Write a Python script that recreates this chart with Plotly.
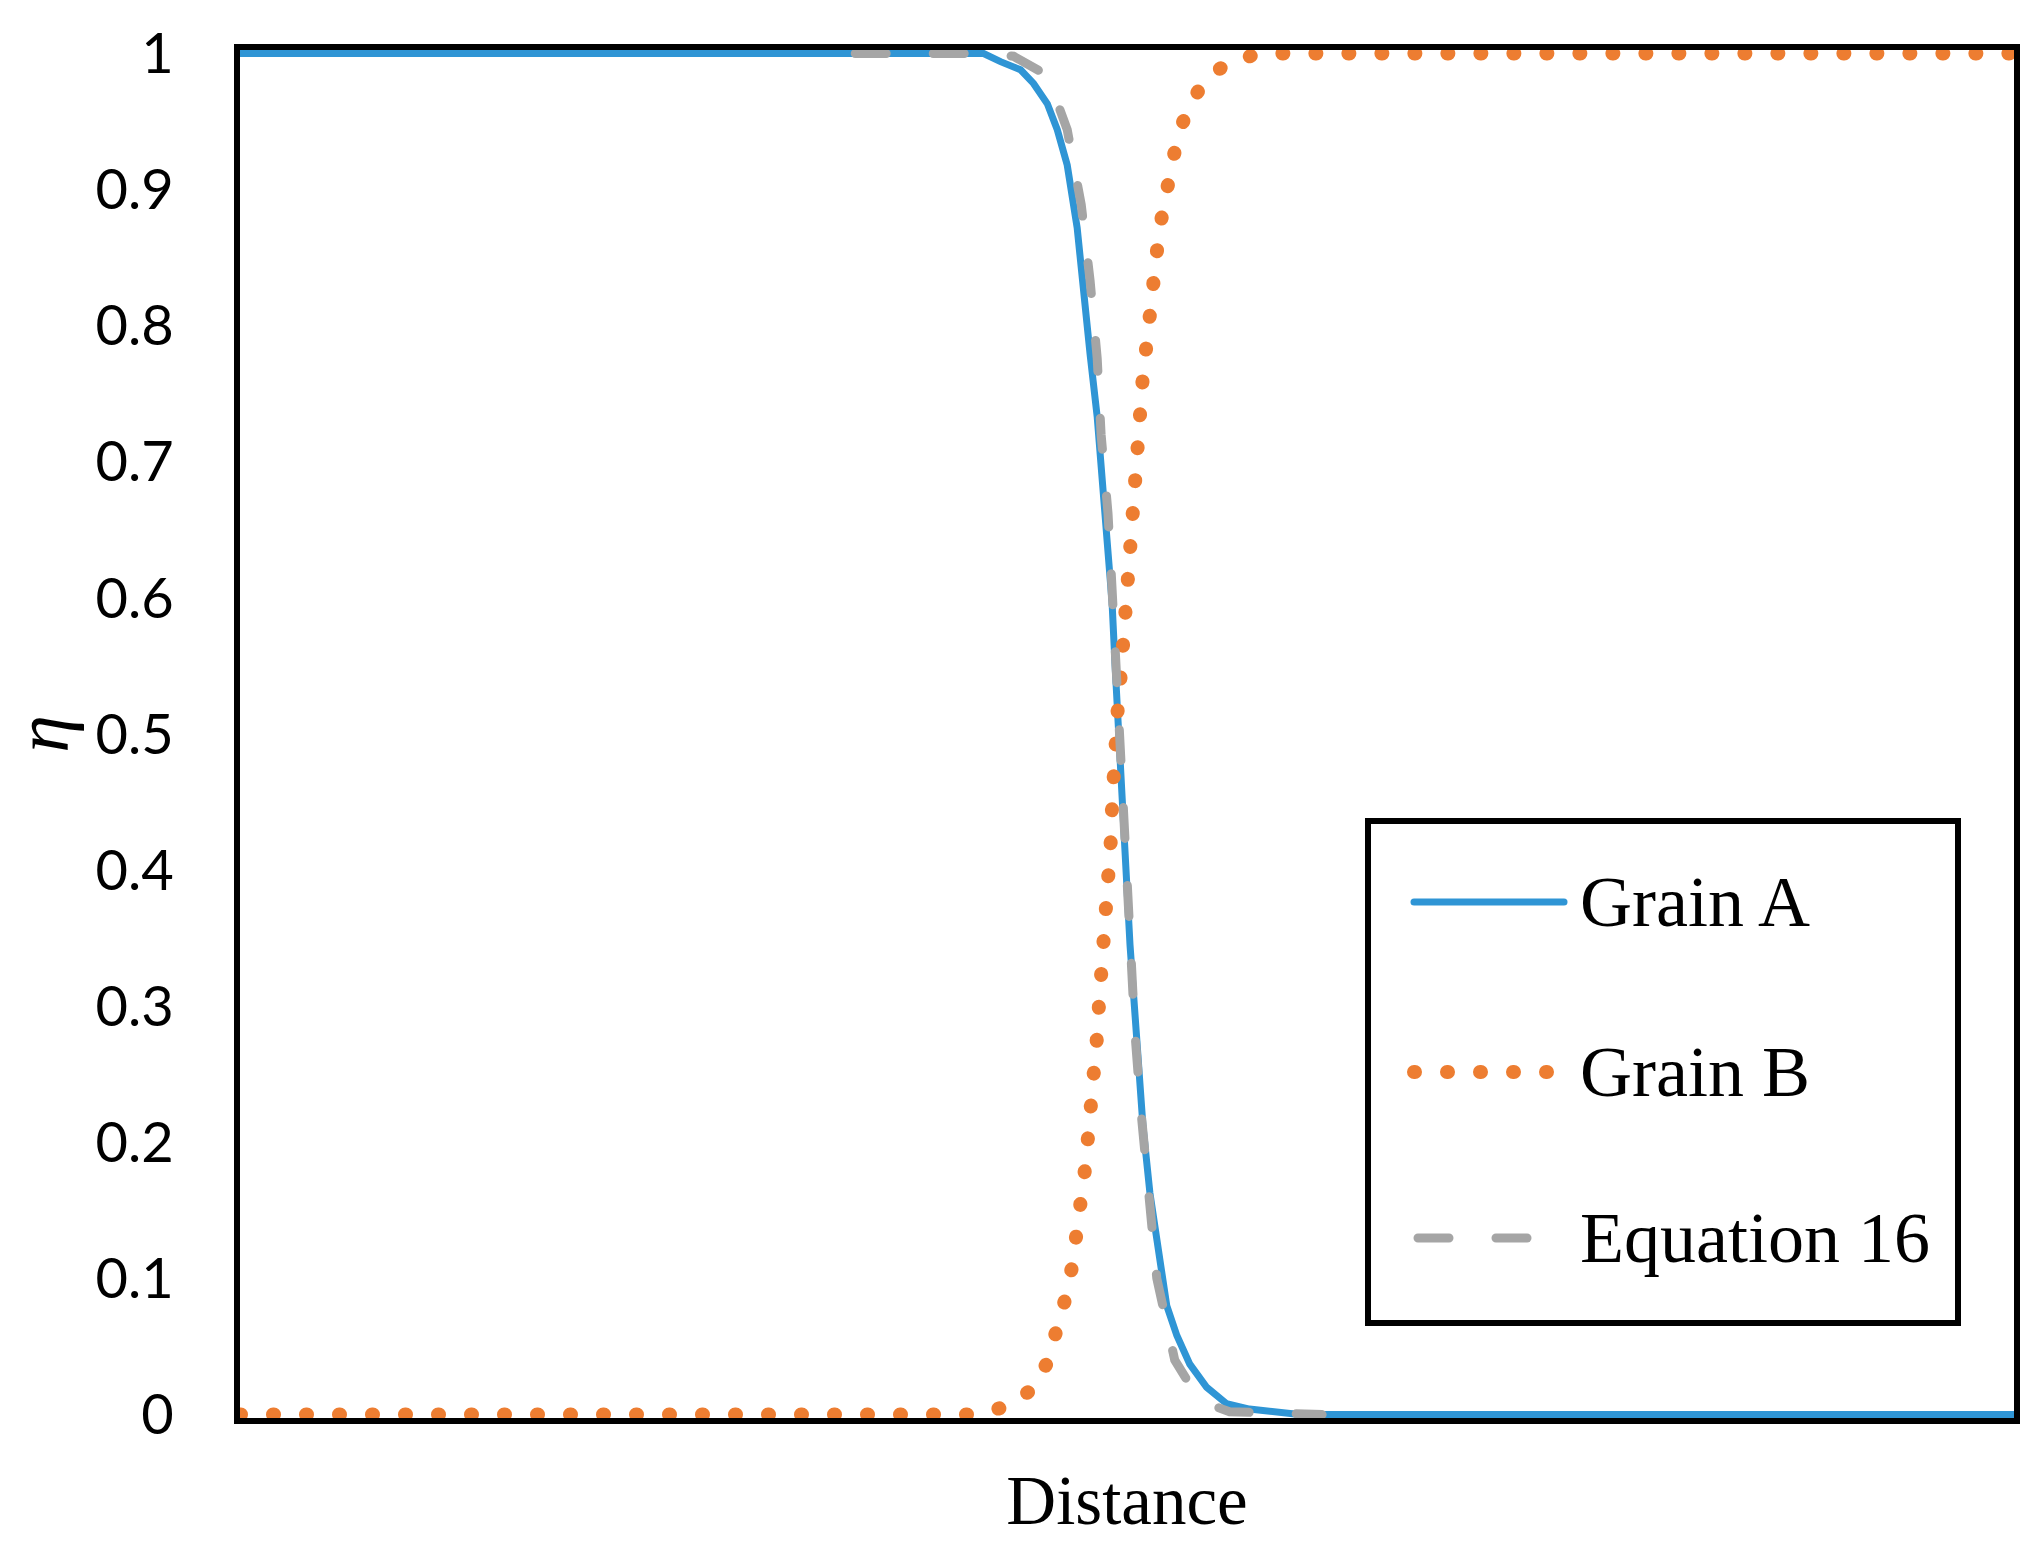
import plotly.graph_objects as go

# ---------------- data ----------------
distance_a = [0, 41.92, 42.87, 44.00, 44.73, 45.51, 46.07, 46.63, 47.19, 47.53,
              47.92, 48.32, 48.60, 48.88, 49.16, 49.33, 49.49, 49.78, 50.17, 50.56,
              50.90, 51.29, 51.68, 52.24, 52.81, 53.54, 54.49, 55.61, 56.90, 59.71, 100]
eta_a = [1, 1, 0.994, 0.988, 0.978, 0.963, 0.944, 0.918, 0.872, 0.825,
         0.779, 0.733, 0.688, 0.642, 0.596, 0.550, 0.505, 0.44, 0.345, 0.279,
         0.212, 0.163, 0.129, 0.080, 0.058, 0.037, 0.020, 0.008, 0.004, 0, 0]

distance_b = [0, 41.08, 42.99, 44.50, 45.51, 46.07, 46.52, 46.91, 47.19, 47.42,
              47.64, 47.81, 48.04, 48.15, 48.32, 48.43, 48.60, 48.71, 48.82, 48.93,
              49.10, 49.16, 49.21, 49.33, 49.49, 49.66, 49.78, 49.94, 50.06, 50.17,
              50.34, 50.45, 50.62, 50.79, 50.90, 51.12, 51.29, 51.52, 51.74, 52.02,
              52.30, 52.75, 53.31, 54.21, 55.61, 57.46, 100]
eta_b = [0, 0, 0.005, 0.017, 0.038, 0.061, 0.085, 0.109, 0.133, 0.157,
         0.181, 0.205, 0.230, 0.254, 0.279, 0.303, 0.327, 0.352, 0.375, 0.400,
         0.424, 0.448, 0.473, 0.497, 0.521, 0.545, 0.570, 0.594, 0.618, 0.643,
         0.667, 0.691, 0.715, 0.740, 0.764, 0.788, 0.812, 0.837, 0.861, 0.885,
         0.909, 0.932, 0.956, 0.977, 0.993, 1, 1]

distance_eq = [34.68, 42.31, 43.60, 45.51, 46.63, 47.42, 47.92, 48.32, 48.54, 48.93,
               49.16, 49.38, 49.55, 49.72, 49.94, 50.17, 50.45, 50.78, 51.18, 51.68,
               52.69, 54.10, 55.78, 61.0]
eta_eq = [1, 1, 0.998, 0.984, 0.944, 0.889, 0.833, 0.776, 0.720, 0.662,
          0.606, 0.550, 0.5, 0.45, 0.394, 0.338, 0.28, 0.224, 0.167, 0.100,
          0.040, 0.010, 0.002, 0]

series_names = ["Grain A", "Grain B", "Equation 16"]
y_tick_values = [0, 0.1, 0.2, 0.3, 0.4, 0.5, 0.6, 0.7, 0.8, 0.9, 1]
y_tick_labels = ["0", "0.1", "0.2", "0.3", "0.4", "0.5", "0.6", "0.7", "0.8", "0.9", "1"]
x_title = "Distance"
y_title = "η"

# ---------------- styling ----------------
BLUE = "#2F95D5"
ORANGE = "#ED7D31"
GRAY = "#A5A5A5"
SERIF = "Liberation Serif, Times New Roman, serif"
W, H = 2044, 1550
ML, MR, MT, MB = 240, 30, 50, 132
PW, PH = W - ML - MR, H - MT - MB
PAD = 3.5 / (PH - 7)  # keeps the curves at 0 and 1 fully visible


def px_x(px):
    return (px - ML) / PW


def px_y(py):
    return (H - MB - py) / PH


fig = go.Figure()
fig.add_trace(go.Scatter(x=distance_a, y=eta_a, mode="lines", name=series_names[0],
                         line=dict(color=BLUE, width=7), showlegend=False))
fig.add_trace(go.Scatter(x=distance_b, y=eta_b, mode="lines", name=series_names[1],
                         line=dict(color=ORANGE, width=14, dash="1px,32px"),
                         showlegend=False))
fig.add_trace(go.Scatter(x=distance_eq, y=eta_eq, mode="lines", name=series_names[2],
                         line=dict(color=GRAY, width=9, dash="31px,47px"),
                         showlegend=False))

# ---------------- legend box drawn to match the reference layout ----------------
shapes = [dict(type="rect", xref="paper", yref="paper",
               x0=px_x(1368), x1=px_x(1958), y0=px_y(1323), y1=px_y(821),
               line=dict(color="black", width=6), fillcolor="white", layer="above")]
rows_y = [902, 1072, 1238]
samples = [
    dict(x0=1414, x1=1564, color=BLUE, width=7, dash="solid"),
    dict(x0=1414, x1=1548, color=ORANGE, width=14, dash="1px,32px"),
    dict(x0=1418, x1=1530, color=GRAY, width=9, dash="31px,47px"),
]
annotations = []
for name, ry, s in zip(series_names, rows_y, samples):
    shapes.append(dict(type="line", xref="paper", yref="paper",
                       x0=px_x(s["x0"]), x1=px_x(s["x1"]), y0=px_y(ry), y1=px_y(ry),
                       line=dict(color=s["color"], width=s["width"], dash=s["dash"]),
                       layer="above"))
    annotations.append(dict(xref="paper", yref="paper", x=px_x(1578), y=px_y(ry),
                            xanchor="left", yanchor="middle", showarrow=False, text=name,
                            font=dict(family=SERIF, size=72, color="black")))

fig.update_layout(
    width=W, height=H,
    margin=dict(l=ML, r=MR, t=MT, b=MB, pad=0),
    paper_bgcolor="white", plot_bgcolor="white",
    showlegend=False,
    shapes=shapes, annotations=annotations,
    xaxis=dict(range=[0, 100], showticklabels=False, ticks="", showgrid=False,
               zeroline=False, showline=True, linecolor="black", linewidth=6,
               mirror=True, layer="below traces",
               title=dict(text=x_title, standoff=55,
                          font=dict(family=SERIF, size=69, color="black"))),
    yaxis=dict(range=[-PAD, 1 + PAD], tickvals=y_tick_values, ticktext=y_tick_labels,
               ticks="", ticklabelstandoff=49, showgrid=False, zeroline=False,
               showline=True, linecolor="black", linewidth=6, mirror=True,
               layer="below traces",
               tickfont=dict(family="Lato, Open Sans, sans-serif", size=56, color="black"),
               title=dict(text=y_title, standoff=25,
                          font=dict(family=SERIF, size=76, color="black", style="italic"))),
)

post = ("document.body.style.margin='0';"
        "var s=document.createElement('style');"
        "s.textContent='body{margin:0}.scatterlayer path.js-line, .shapelayer path{stroke-linecap:round !important;}';"
        "document.head.appendChild(s);")
fig.write_html("out.html", post_script=post, config={"displayModeBar": False})
